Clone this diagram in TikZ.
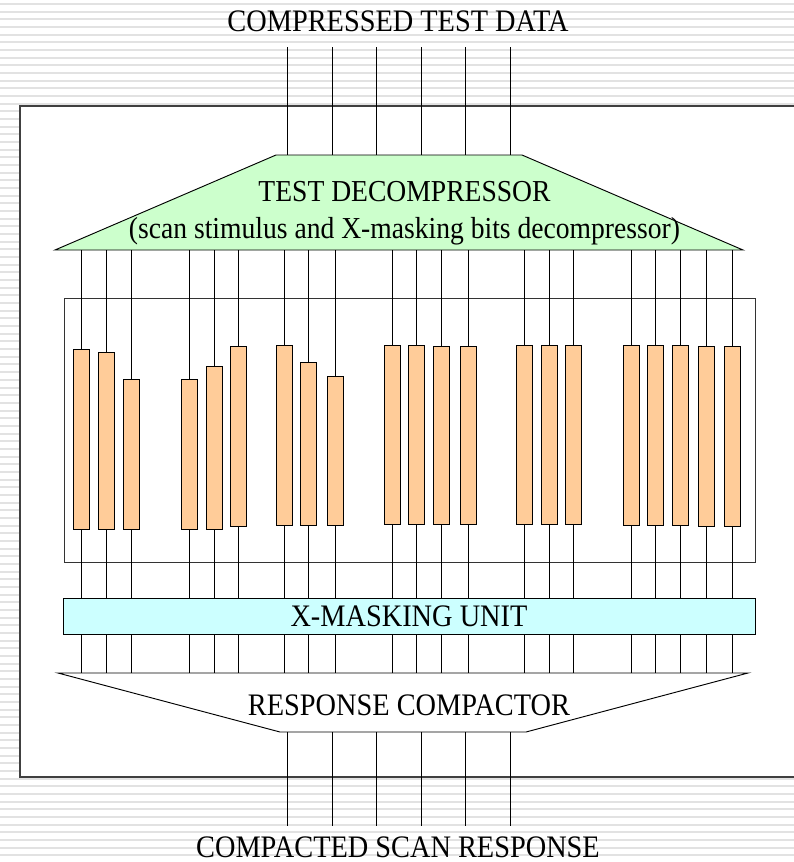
\documentclass[tikz,border=0pt]{standalone}
\usepackage{fontspec}
\setmainfont{Liberation Serif}
\usepackage{tikz}
\definecolor{decgreen}{HTML}{CCFFCC}
\definecolor{maskcyan}{HTML}{CCFFFF}
\definecolor{chainpeach}{HTML}{FFCC99}
\definecolor{stripegray}{HTML}{E2E2E2}
\newcommand{\narrow}[1]{\scalebox{0.906}[1]{#1}}

\begin{document}
\begin{tikzpicture}[
  x=0.03cm, y=-0.03cm,
  wire/.style={line width=0.8pt},
  txt/.style={font=\fontsize{26.7}{25.6}\selectfont, inner sep=0pt},
  block/.style={draw, inner sep=0pt, line width=0.8pt},
  chain/.style={draw, fill=chainpeach, line width=0.8pt, minimum width=0.48cm, inner sep=0pt},
  trap/.style={draw, line width=0.8pt, line join=miter}
]
\useasboundingbox (0,0) rectangle (794,862);
\foreach \k in {0,...,112}
  \fill[stripegray] (0,{3+7.67*\k}) rectangle (794,{5+7.67*\k});
\draw[draw=black!75, line width=1.2pt, fill=white] (20,106) rectangle (830,777);

\coordinate (decnw) at (276,155);
\coordinate (decne) at (522,155);
\coordinate (decse) at (743,250);
\coordinate (decsw) at (55,250);
\draw[trap, fill=decgreen] (decnw) -- (decne) -- (decse) -- (decsw) -- cycle;
\node[txt, font=\fontsize{26}{31.8}\selectfont, align=center] (dectitle) at (404.5,213.4) {\narrow{TEST DECOMPRESSOR}\\\narrow{(scan stimulus and X-masking bits decompressor)}};

\node[block, draw=black!80, minimum width=20.73cm, minimum height=7.92cm] (scan) at (409.5,430) {};
\node[block, txt, fill=maskcyan, minimum width=20.76cm, minimum height=1.08cm] (xmask) at (409,616) {\narrow{X-MASKING UNIT}};

\coordinate (compnw) at (58,673);
\coordinate (compne) at (748,673);
\coordinate (compse) at (526,732);
\coordinate (compsw) at (280,732);
\draw[trap] (compnw) -- (compne) -- (compse) -- (compsw) -- cycle;
\node[txt, anchor=base] (comptitle) at (409,715) {\narrow{RESPONSE COMPACTOR}};

\node[txt, anchor=base] (indata) at (398,31.7) {\narrow{COMPRESSED TEST DATA}};
\node[txt, anchor=base] (outdata) at (398,857.5) {\narrow{COMPACTED SCAN RESPONSE}};

\foreach \x/\t/\b [count=\i] in {81/349/529, 106/352/529, 131/379/529,
    189.5/379/529, 214/366/529, 238/346/526,
    284/345/525, 308.7/362/525, 335/376/525,
    392/345/524, 416/345/524, 441/346/524, 468/346/524,
    524/345/524, 549/345/524, 573/345/524,
    631/345/525, 655.5/345/525, 680/345/525, 706.5/346/526, 732.5/346/526} {
  \node[chain, minimum height={(\b-\t)*0.03cm}] (chain\i) at (\x,{(\t+\b)/2}) {};
  \draw[wire] (chain\i.north |- decsw) -- (chain\i.north);
  \draw[wire] (chain\i.south) -- (chain\i.south |- xmask.north);
  \draw[wire] (chain\i.south |- xmask.south) -- (chain\i.south |- compnw);
}

\foreach \x [count=\j] in {287,332,376,421,465,510} {
  \coordinate (in\j) at (\x,47);
  \coordinate (out\j) at (\x,826);
  \draw[wire] (in\j) -- (in\j |- decnw);
  \draw[wire] (out\j |- compsw) -- (out\j);
}
\end{tikzpicture}
\end{document}
